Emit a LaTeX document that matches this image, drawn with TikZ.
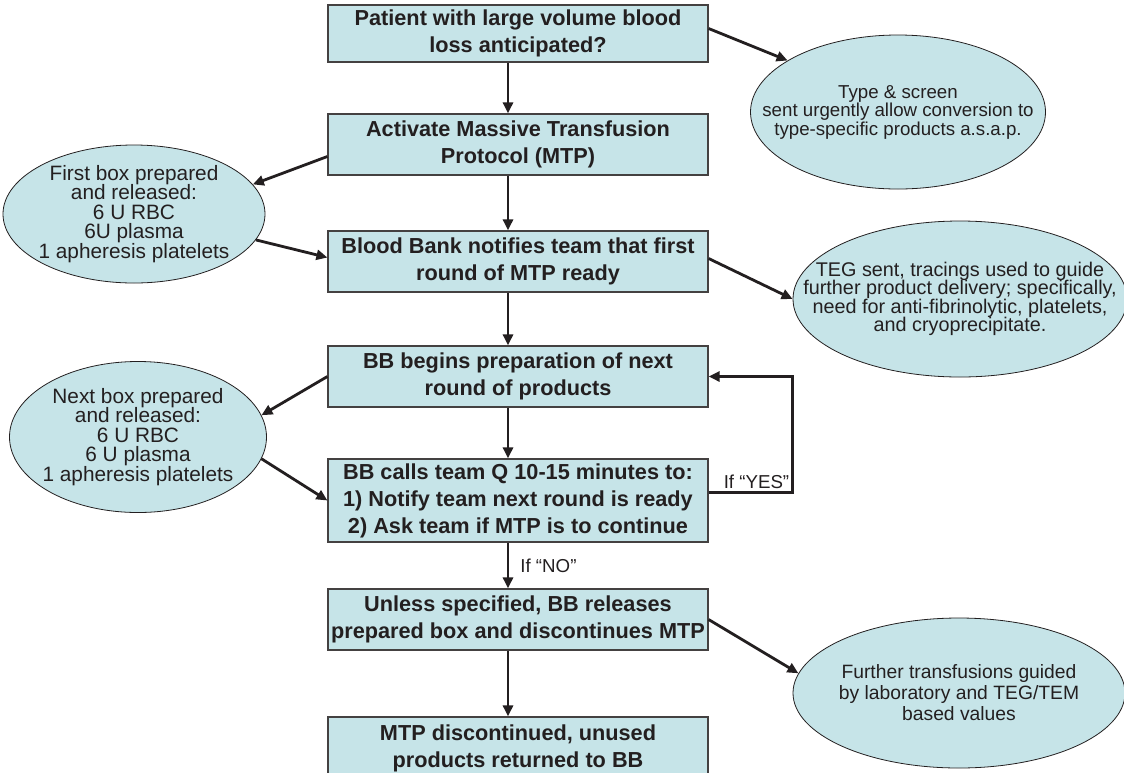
\documentclass[tikz,border=0pt]{standalone}
\usepackage{fontspec}
\setmainfont{Liberation Sans}
\usetikzlibrary{arrows.meta,shapes.geometric}
\definecolor{boxfill}{RGB}{198,228,232}
\definecolor{ink}{RGB}{35,31,32}
\tikzset{
  stepbox/.style={draw=ink!85, line width=1.2pt, fill=boxfill, minimum width=380pt, align=center, inner sep=0pt, text=ink, font=\fontsize{21.7}{27}\selectfont\bfseries},
  note/.style={ellipse, draw=ink, line width=0.8pt, fill=boxfill, align=center, inner xsep=-45pt, inner ysep=-4pt, text=ink, font=\fontsize{18.7}{18.5}\selectfont},
  arr/.style={draw=ink, line width=2.8pt, -{Triangle[length=11pt,width=10pt]}},
  lbl/.style={text=ink, font=\fontsize{18.7}{20}\selectfont, inner sep=2pt}
}
\begin{document}
\begin{tikzpicture}[x=1pt,y=-1pt]
      \useasboundingbox (0,0) rectangle (1124,772);
      \node[stepbox, minimum height=57pt] (b1) at (518,33.5) {Patient with large volume blood\\loss anticipated?};
      \node[stepbox, minimum height=61pt] (b2) at (518,144.5) {Activate Massive Transfusion\\Protocol (MTP)};
      \node[stepbox, minimum height=61pt] (b3) at (518,261.5) {Blood Bank notifies team that first\\round of MTP ready};
      \node[stepbox, minimum height=61pt] (b4) at (518,376.5) {BB begins preparation of next\\round of products};
      \node[stepbox, minimum height=83pt] (b5) at (518,500.5) {BB calls team Q 10-15 minutes to:\\1) Notify team next round is ready\\2) Ask team if MTP is to continue};
      \node[stepbox, minimum height=61pt] (b6) at (518,619.5) {Unless specified, BB releases\\prepared box and discontinues MTP};
      \node[stepbox, minimum height=62pt] (b7) at (518,748) {MTP discontinued, unused\\products returned to BB};
      % side notes
      \node[note, minimum width=295pt, minimum height=154pt] (e1) at (898,112) {Type \& screen\\sent urgently allow conversion to\\type-specific products a.s.a.p.};
      \node[note, minimum width=262pt, minimum height=138pt, font=\fontsize{20.8}{19.5}\selectfont] (e2) at (134,214) {First box prepared\\and released:\\6 U RBC\\6U plasma\\1 apheresis platelets};
      \node[note, minimum width=334pt, minimum height=156pt, font=\fontsize{19.8}{18.5}\selectfont] (e3) at (960,299) {TEG sent, tracings used to guide\\further product delivery; specifically,\\need for anti-fibrinolytic, platelets,\\and cryoprecipitate.};
      \node[note, minimum width=257pt, minimum height=151pt, font=\fontsize{20.8}{19.5}\selectfont] (e4) at (138,437) {Next box prepared\\and released:\\6 U RBC\\6 U plasma\\1 apheresis platelets};
      \node[note, minimum width=332pt, minimum height=150pt, font=\fontsize{19.3}{21}\selectfont] (e5) at (959,693) {Further transfusions guided\\by laboratory and TEG/TEM\\based values};
      % main flow
      \draw[arr] ([xshift=-10pt]b1.south) -- ([xshift=-10pt]b2.north);
      \draw[arr] ([xshift=-10pt]b2.south) -- ([xshift=-10pt]b3.north);
      \draw[arr] ([xshift=-10pt]b3.south) -- ([xshift=-10pt]b4.north);
      \draw[arr] ([xshift=-10pt]b4.south) -- ([xshift=-10pt]b5.north);
      \draw[arr] ([xshift=-10pt]b5.south) -- node[lbl, right, xshift=9pt] (no) {If “NO”} ([xshift=-10pt]b6.north);
      \draw[arr] ([xshift=-10pt]b6.south) -- ([xshift=-10pt]b7.north);
      \draw[arr] ([yshift=8pt]b5.east) -- ++(84,0) node[lbl, anchor=south east] (yes) {If “YES”} |- (b4.east);
      % to and from the notes
      \draw[arr] ([yshift=5pt]b1.east) -- (e1.155);
      \draw[arr] ([yshift=-12pt]b2.west) -- (e2.14);
      \draw[arr] (e2.-12) -- ([yshift=4pt]b3.west);
      \draw[arr] ([yshift=3pt]b3.east) -- (e3.180);
      \draw[arr] (b4.west) -- (e4.10);
      \draw[arr] (e4.-10) -- (b5.west);
      \draw[arr] (b6.east) -- (e5.173);
\end{tikzpicture}
\end{document}
